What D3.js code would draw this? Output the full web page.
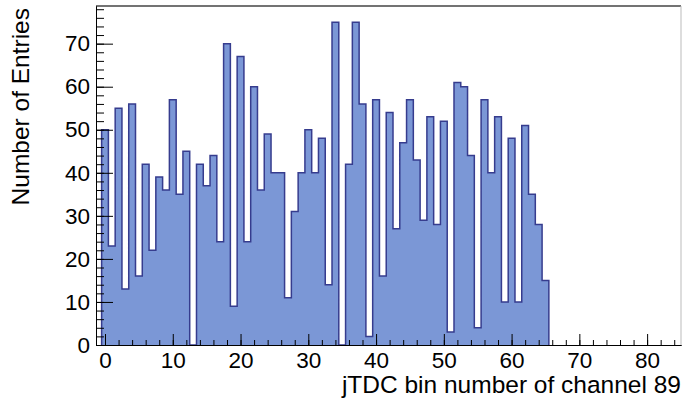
<!DOCTYPE html>
<html>
<head>
<meta charset="utf-8">
<script src="https://cdn.jsdelivr.net/npm/d3@7"></script>
<style>
  body { margin: 0; background: #fff; }
  svg text { font-family: "Liberation Sans", Arial, Helvetica, sans-serif; fill: #000; }
</style>
</head>
<body>
<svg id="chart"></svg>
<script>
// entries per jTDC bin (bins 0..65, everything above is empty)
const BINS = d3.range(0, 66)
const COUNTS = [50, 23, 55, 13, 56, 16, 42, 22, 39, 36,
                57, 35, 45, 0, 42, 37, 44, 24, 70, 9,
                67, 24, 60, 36, 49, 40, 40, 11, 31, 40,
                50, 40, 48, 14, 75, 0, 42, 75, 56, 2,
                57, 16, 54, 27, 47, 57, 43, 29, 53, 28,
                52, 3, 61, 60, 44, 4, 57, 40, 53, 10,
                48, 10, 51, 35, 28, 15]
const X_TICKS = [0, 10, 20, 30, 40, 50, 60, 70, 80]
const Y_TICKS = [0, 10, 20, 30, 40, 50, 60, 70]
const X_TITLE = 'jTDC bin number of channel 89'
const Y_TITLE = 'Number of Entries'

let width = 683,
    height = 403,
    frame = {left: 96, right: 681, top: 6, bottom: 345}

let svg = d3.select('svg#chart')
  .attr('width', width)
  .attr('height', height)

let x = d3.scaleLinear().domain([-1.33, 85]).range([frame.left, frame.right])
let y = d3.scaleLinear().domain([0, 78.75]).range([frame.bottom, frame.top])

// step outline: bin edges sit at half integers
let steps = BINS.map((b, i) => ({edge: b - 0.5, v: COUNTS[i]}))
steps.push({edge: BINS[BINS.length - 1] + 0.5, v: 0})

let area = d3.area()
  .curve(d3.curveStepAfter)
  .x(d => x(d.edge))
  .y0(y(0))
  .y1(d => y(d.v))

svg.append('path')
  .datum(steps)
  .attr('d', area)
  .attr('fill', '#7b97d6')

let outline = d3.line()
  .curve(d3.curveStepAfter)
  .x(d => x(d.edge))
  .y(d => y(d.v))

svg.append('path')
  .datum([{edge: steps[0].edge, v: 0}].concat(steps))
  .attr('d', outline)
  .attr('fill', 'none')
  .attr('stroke', '#363c8e')
  .attr('stroke-width', 1.5)

// frame top / right
svg.append('line')
  .attr('x1', frame.left).attr('x2', frame.right)
  .attr('y1', frame.top).attr('y2', frame.top)
  .attr('stroke', '#444').attr('stroke-width', 1.6)
svg.append('line')
  .attr('x1', frame.right).attr('x2', frame.right)
  .attr('y1', frame.top).attr('y2', frame.bottom)
  .attr('stroke', '#bbb').attr('stroke-width', 1)

// minor ticks
svg.append('g')
  .attr('transform', `translate(0,${frame.bottom})`)
  .call(d3.axisBottom(x).tickValues(d3.range(0, 85, 2)).tickSize(-5).tickSizeOuter(0).tickFormat(''))
svg.append('g')
  .attr('transform', `translate(${frame.left},0)`)
  .call(d3.axisLeft(y).tickValues(d3.range(0, 79, 2)).tickSize(-8).tickSizeOuter(0).tickFormat(''))

// major ticks with labels
let xAxis = svg.append('g')
  .attr('transform', `translate(0,${frame.bottom})`)
  .call(d3.axisBottom(x).tickValues(X_TICKS).tickSize(-11).tickSizeOuter(0).tickPadding(7))
let yAxis = svg.append('g')
  .attr('transform', `translate(${frame.left},0)`)
  .call(d3.axisLeft(y).tickValues(Y_TICKS).tickSize(-17).tickSizeOuter(0).tickPadding(6))

svg.selectAll('.tick text').attr('font-size', 22.5).attr('fill', '#000')
svg.selectAll('.domain, .tick line').attr('stroke', '#000')

svg.append('text')
  .attr('x', frame.right)
  .attr('y', 393)
  .attr('text-anchor', 'end')
  .attr('font-size', 24.5)
  .text(X_TITLE)

svg.append('text')
  .attr('transform', 'translate(29,8) rotate(-90)')
  .attr('text-anchor', 'end')
  .attr('font-size', 24.5)
  .text(Y_TITLE)
</script>
</body>
</html>
